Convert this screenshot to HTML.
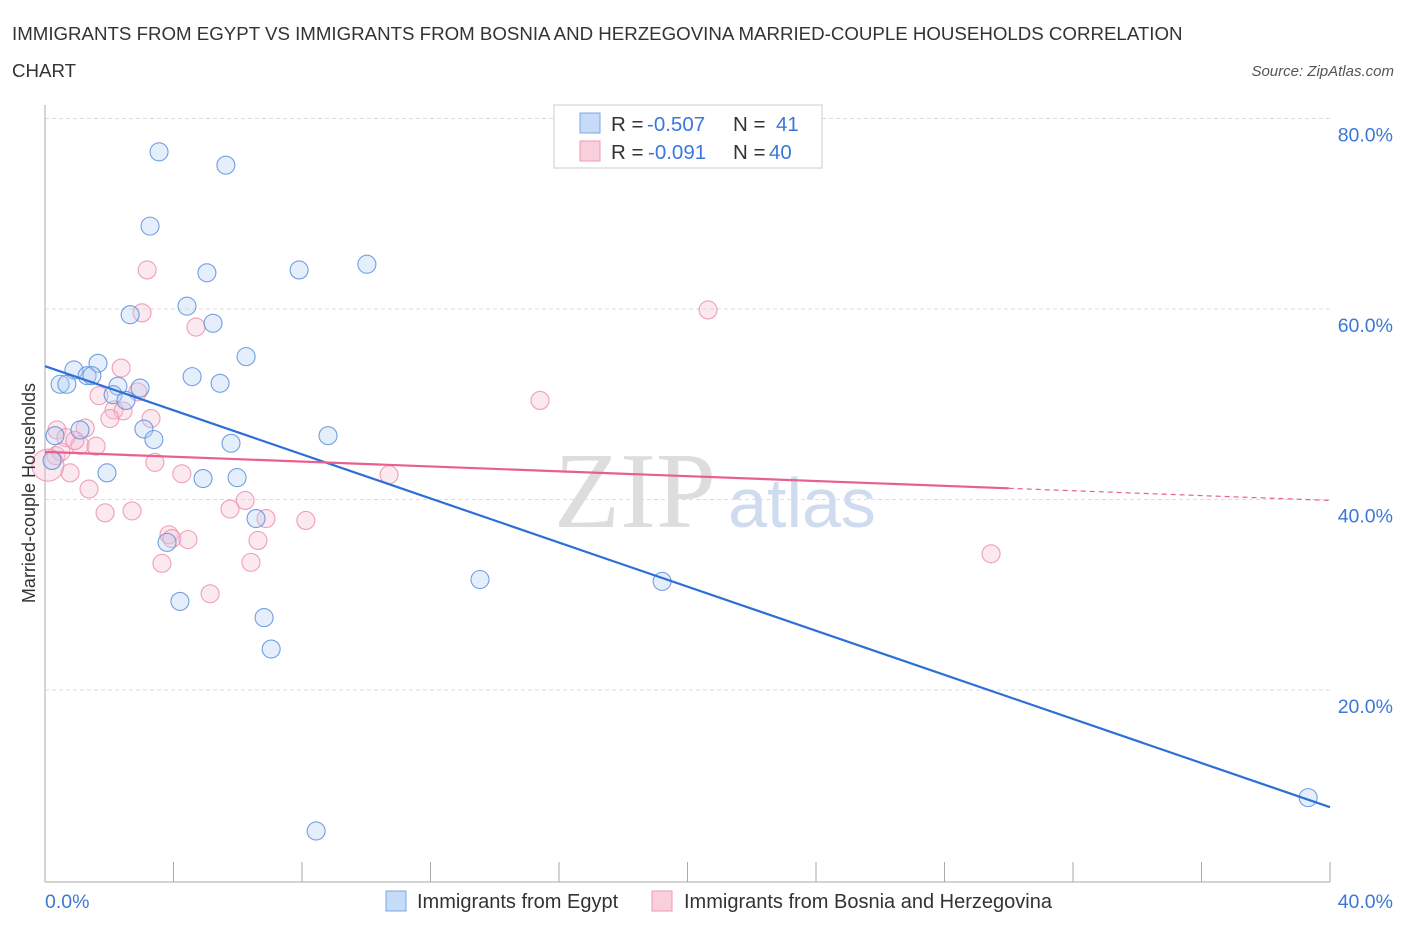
<!DOCTYPE html>
<html><head><meta charset="utf-8"><style>
body{margin:0;background:#fff;font-family:"Liberation Sans",sans-serif;}
</style></head><body>
<svg width="1406" height="930" xmlns="http://www.w3.org/2000/svg" id="chart" style="font-family:'Liberation Sans',sans-serif">
<text x="12" y="40" font-size="18.7" fill="#333">IMMIGRANTS FROM EGYPT VS IMMIGRANTS FROM BOSNIA AND HERZEGOVINA MARRIED-COUPLE HOUSEHOLDS CORRELATION</text>
<text x="12" y="77" font-size="18.7" fill="#333">CHART</text>
<text x="1394" y="76" font-size="15" font-style="italic" fill="#555" text-anchor="end">Source: ZipAtlas.com</text>
<text x="635" y="527" font-size="108" font-family="'Liberation Serif',serif" fill="#ddd" text-anchor="middle">ZIP</text>
<text x="802" y="527" font-size="70" fill="#cfdcef" text-anchor="middle">atlas</text>
<g id="grid"></g>
<g id="axes"></g>
<g id="pts"></g>
<g id="trends"></g>
<text x="35" y="493" font-size="18" fill="#333" text-anchor="middle" transform="rotate(-90 35 493)">Married-couple Households</text>
<text x="45" y="908" font-size="19.5" fill="#3b78d8">0.0%</text>
<text x="1393" y="908" font-size="19.5" fill="#3b78d8" text-anchor="end">40.0%</text>
<g>
<rect x="554" y="105" width="268" height="63" fill="#fff" stroke="#ccc"/>
<rect x="580" y="113" width="20" height="20" fill="#c5dbf7" stroke="#7aa7e8"/>
<rect x="580" y="141" width="20" height="20" fill="#f9cfdc" stroke="#ef9ab5"/>
<text x="611" y="131" font-size="20.5" fill="#333">R = <tspan x="647" fill="#3b78d8">-0.507</tspan><tspan x="733">N = </tspan><tspan x="776" fill="#3b78d8">41</tspan></text>
<text x="611" y="159" font-size="20.5" fill="#333">R = <tspan x="648" fill="#3b78d8">-0.091</tspan><tspan x="733">N = </tspan><tspan x="769" fill="#3b78d8">40</tspan></text>
</g>
<g>
<rect x="386" y="891" width="20" height="20" fill="#c5dbf7" stroke="#7aa7e8"/>
<text x="417" y="908" font-size="20" fill="#333">Immigrants from Egypt</text>
<rect x="652" y="891" width="20" height="20" fill="#f9cfdc" stroke="#ef9ab5"/>
<text x="684" y="908" font-size="20" fill="#333">Immigrants from Bosnia and Herzegovina</text>
</g>
</svg>
<script>
const yTicks=[20,40,60,80];
const yTickLabels=["20.0%","40.0%","60.0%","80.0%"];
const egyptX=[3.55,5.63,3.27,5.04,7.91,10.02,4.42,2.65,5.23,6.26,1.65,0.90,1.31,1.46,4.58,5.45,0.47,0.68,2.96,2.27,2.12,2.52,3.08,0.31,1.09,3.39,5.79,8.81,1.93,4.92,5.98,6.57,3.80,4.20,6.82,7.04,13.54,19.21,39.32,8.44,0.22];
const egyptY=[76.5,75.1,68.7,63.8,64.1,64.7,60.3,59.4,58.5,55.0,54.3,53.6,53.0,53.0,52.9,52.2,52.1,52.1,51.7,51.9,51.0,50.4,47.4,46.7,47.3,46.3,45.9,46.7,42.8,42.2,42.3,38.0,35.5,29.3,27.6,24.3,31.6,31.4,8.7,5.2,44.1];
const bosniaX=[3.18,3.02,4.70,20.64,2.37,2.89,1.68,2.15,2.43,2.02,3.30,15.41,0.37,1.25,0.65,1.09,1.59,0.34,0.50,0.78,3.42,4.26,10.71,1.37,6.23,1.87,2.71,5.76,6.88,8.12,3.86,3.95,4.45,6.63,3.64,6.41,5.14,29.45,0.09,0.93];
const bosniaY=[64.1,59.6,58.1,59.9,53.8,51.3,50.9,49.4,49.3,48.5,48.5,50.4,47.3,47.5,46.5,45.7,45.6,44.6,45.0,42.8,43.9,42.7,42.6,41.1,39.9,38.6,38.8,39.0,38.0,37.8,36.3,35.9,35.8,35.7,33.3,33.4,30.1,34.3,43.6,46.2];
const egyptTrend=[54.0,-1.1575];
const bosniaTrend=[45.0,-0.1275];
const NS="http://www.w3.org/2000/svg";
const X0=45,X1=1330,Y0=880.5,YS=9.525;
function sx(v){return X0+(v/40)*(X1-X0);}
function sy(v){return Y0-v*YS;}
function mk(t,a,p){const e=document.createElementNS(NS,t);for(const k in a)e.setAttribute(k,a[k]);document.getElementById(p).appendChild(e);return e;}
yTicks.forEach((t,i)=>{
 const l=mk('line',{x1:X0,x2:1330,y1:sy(t),y2:sy(t),stroke:'#ddd','stroke-dasharray':'4,3'},'grid');
 
 
 const tx=mk('text',{x:1393,y:sy(t)+23,'font-size':19.5,fill:'#3b78d8','text-anchor':'end'},'grid');
 tx.textContent=yTickLabels[i];
 
 
});
const ax=mk('line',{x1:X0,x2:X0,y1:105,y2:882,stroke:'#aaa'},'axes');


const bx=mk('line',{x1:X0,x2:1330,y1:882,y2:882,stroke:'#aaa'},'axes');


for(let i=0;i<=10;i++){
 const tk=mk('line',{x1:sx(i*4),x2:sx(i*4),y1:862,y2:882,stroke:'#aaa'},'axes');
 
 
}
function pts(xs,ys,fill,stroke,name,big){
 xs.forEach((x,i)=>{
  const r=(x<0.25&&big)?16:9;
  const c=mk('circle',{cx:sx(x),cy:sy(ys[i]),r:r,fill:fill,'fill-opacity':0.35,stroke:stroke,'stroke-width':1.1,'stroke-opacity':0.85},'pts');
  
  
 });
}
pts(bosniaX,bosniaY,'#f7bfd0','#ec8fae','bosnia-point',true);
pts(egyptX,egyptY,'#b5cff3','#5a8fdc','egypt-point',false);
const tb=mk('line',{x1:sx(0),y1:sy(egyptTrend[0]),x2:sx(40),y2:sy(egyptTrend[0]+egyptTrend[1]*40),stroke:'#2e6fd6','stroke-width':2.2},'trends');


const tp=mk('line',{x1:sx(0),y1:sy(bosniaTrend[0]),x2:sx(30),y2:sy(bosniaTrend[0]+bosniaTrend[1]*30),stroke:'#e8608f','stroke-width':2.2},'trends');


const tpd=mk('line',{x1:sx(30),y1:sy(bosniaTrend[0]+bosniaTrend[1]*30),x2:sx(40),y2:sy(bosniaTrend[0]+bosniaTrend[1]*40),stroke:'#e8608f','stroke-width':1.2,'stroke-dasharray':'5,4'},'trends');


</script>
</body></html>
